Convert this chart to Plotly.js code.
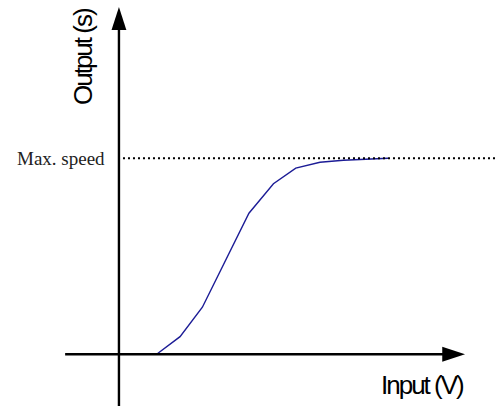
<!DOCTYPE html>
<html><head><meta charset="utf-8">
<script src="https://cdn.plot.ly/plotly-3.0.1.min.js"></script>
<style>
html,body{margin:0;padding:0;background:#fff;}
#chart{width:496px;height:406px;}
</style>
</head><body>
<div id="chart"></div>
<script>
// Input voltage (arbitrary units) and normalised output speed
var inputV = [1.4, 2.27, 3.1, 4.83, 5.74, 6.57, 7.47, 8.34, 10.0];
var outputS = [0.0, 0.09, 0.24, 0.72, 0.87, 0.95, 0.98, 0.99, 1.0];
var maxSpeed = 1.0;
var xLabel = 'Input (V)';
var yLabel = 'Output (s)';
var maxLabel = 'Max. speed';

var xr = [-4.42, 14.01];
var yr = [-0.264, 1.808];
var xTip = 12.86, yTip = 1.772;

var curve = {
  x: inputV, y: outputS, type: 'scatter', mode: 'lines',
  line: {color: '#1c1c96', width: 1.4}, hoverinfo: 'skip'
};
var heads = {
  x: [0, xTip], y: [yTip, 0], type: 'scatter', mode: 'markers', hoverinfo: 'skip',
  marker: {symbol: 'arrow', size: 24, angle: [0, 90], color: '#000', line: {width: 0}}
};

var layout = {
  width: 496, height: 406,
  margin: {l: 0, r: 0, t: 0, b: 0},
  paper_bgcolor: '#fff', plot_bgcolor: '#fff',
  showlegend: false,
  xaxis: {range: xr, visible: false, fixedrange: true},
  yaxis: {range: yr, visible: false, fixedrange: true},
  shapes: [
    {type: 'line', xref: 'x', yref: 'y', x0: 0.15, x1: xr[1], y0: maxSpeed, y1: maxSpeed,
     line: {color: '#000', width: 2, dash: '2px,3px'}},
    {type: 'line', xref: 'x', yref: 'y', x0: 0, x1: 0, y0: yr[0], y1: yTip - 0.05,
     line: {color: '#000', width: 2.4}},
    {type: 'line', xref: 'x', yref: 'y', x0: -2.0, x1: xTip - 0.4, y0: 0, y1: 0,
     line: {color: '#000', width: 2.4}}
  ],
  annotations: [
    {x: 0, y: maxSpeed, xref: 'x', yref: 'y', xanchor: 'right', yanchor: 'middle', xshift: -12,
     text: maxLabel, showarrow: false,
     font: {family: 'Liberation Serif, Times New Roman, serif', size: 19, color: '#222'}},
    {x: 422 / 496, y: 1 - 385 / 406, xref: 'paper', yref: 'paper', xanchor: 'center', yanchor: 'middle',
     text: xLabel, showarrow: false,
     font: {family: 'Liberation Sans, Arial, sans-serif', size: 26, color: '#000'}},
    {x: 83 / 496, y: 1 - 57 / 406, xref: 'paper', yref: 'paper', xanchor: 'center', yanchor: 'middle',
     text: yLabel, showarrow: false, textangle: -90,
     font: {family: 'Liberation Sans, Arial, sans-serif', size: 26, color: '#000'}}
  ]
};

Plotly.newPlot('chart', [curve, heads], layout, {staticPlot: true}).then(function () {
  document.querySelectorAll('.annotation-text').forEach(function (el) {
    var s = el.textContent;
    if (s === xLabel || s === yLabel) el.style.letterSpacing = '-2px';
  });
});
</script>
</body></html>
